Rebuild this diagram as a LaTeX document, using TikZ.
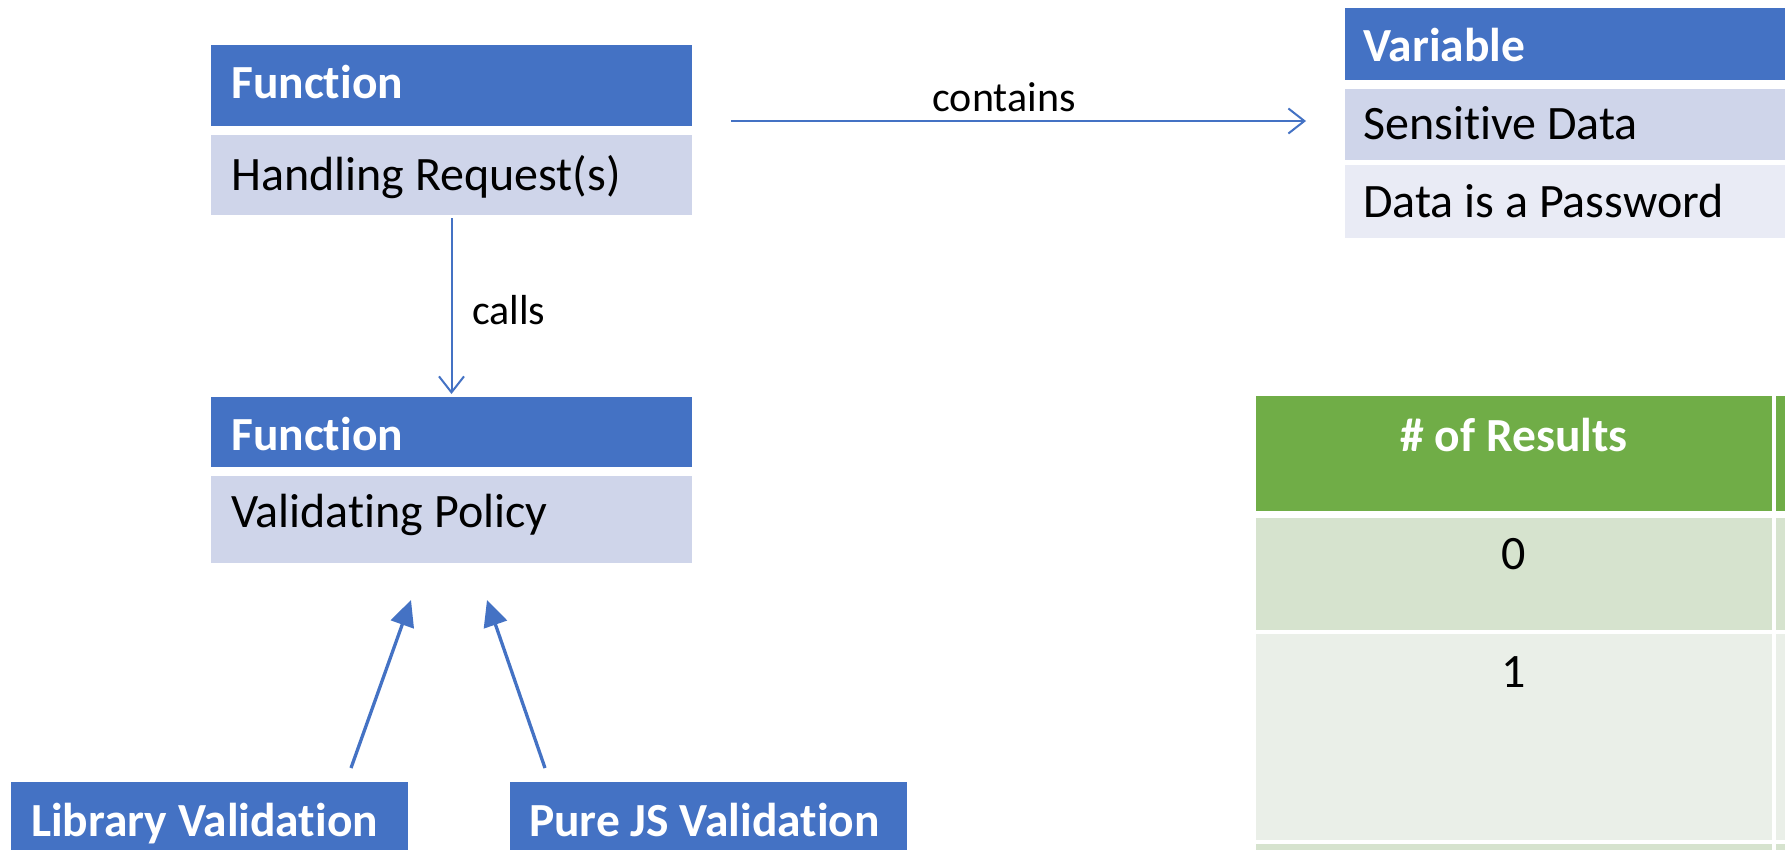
\documentclass[tikz,border=0pt]{standalone}
\usepackage{fontspec}
\setmainfont{Carlito}[Ligatures={NoCommon}]
\usetikzlibrary{arrows.meta}
\definecolor{hdrblue}{HTML}{4472C4}
\definecolor{bodyA}{HTML}{CFD5EA}
\definecolor{bodyB}{HTML}{E9EBF5}
\definecolor{grnhdr}{HTML}{70AD47}
\definecolor{grnA}{HTML}{D6E3CE}
\definecolor{grnB}{HTML}{EAEFE8}
\tikzset{
  box/.style={anchor=north west, inner sep=0pt, outer sep=0pt, draw=none},
  hdrtext/.style={anchor=base west, inner sep=0pt, text=white, font=\fontsize{47.5}{56}\selectfont\bfseries},
  bodytext/.style={anchor=base west, inner sep=0pt, text=black, font=\fontsize{48}{56}\selectfont},
  celltext/.style={anchor=base, inner sep=0pt, text=black, font=\fontsize{48}{56}\selectfont},
  lbltext/.style={anchor=base, inner sep=0pt, text=black, font=\fontsize{42}{50}\selectfont},
  thinarrow/.style={draw=hdrblue, line width=2pt, -{Straight Barb[length=16pt,width=25pt,line width=2pt]}},
  thickarrow/.style={draw=hdrblue, line width=3.3pt, -{Triangle[length=26pt,width=24pt]}},
}
\begin{document}
\begin{tikzpicture}[x=1pt,y=-1pt]
\useasboundingbox (0,0) rectangle (1785,849);
\clip (0,0) rectangle (1785,849);
\fill[white] (0,0) rectangle (1785,849);

% Function 1
\node[box, fill=hdrblue, minimum width=481pt, minimum height=81pt] (f1h) at (211,45) {};
\node[box, fill=bodyA, minimum width=481pt, minimum height=80pt] (f1b) at (211,135) {};
\node[hdrtext] (f1ht) at (231,98) {Function};
\node[bodytext] (f1bt) at (231,190) {Handling Request(s)};

% Function 2
\node[box, fill=hdrblue, minimum width=481pt, minimum height=70pt] (f2h) at (211,397) {};
\node[box, fill=bodyA, minimum width=481pt, minimum height=87pt] (f2b) at (211,476) {};
\node[hdrtext] (f2ht) at (231,450) {Function};
\node[bodytext] (f2bt) at (231,527) {Validating Policy};

% Variable
\node[box, fill=hdrblue, minimum width=460pt, minimum height=72pt] (vh) at (1345,8) {};
\node[box, fill=bodyA, minimum width=460pt, minimum height=71pt] (vb1) at (1345,89) {};
\node[box, fill=bodyB, minimum width=460pt, minimum height=73pt] (vb2) at (1345,165) {};
\node[hdrtext] (vht) at (1363,61) {Variable};
\node[bodytext] (vb1t) at (1363,139) {Sensitive Data};
\node[bodytext] (vb2t) at (1363,217) {Data is a Password};

% Table
\node[box, fill=grnhdr, minimum width=516pt, minimum height=115pt] (th1) at (1256,396) {};
\node[box, fill=grnhdr, minimum width=20pt, minimum height=115pt] (th2) at (1776,396) {};
\node[box, fill=grnA, minimum width=516pt, minimum height=112pt] (tr0) at (1256,518) {};
\node[box, fill=grnA, minimum width=20pt, minimum height=112pt] (tr0b) at (1776,518) {};
\node[box, fill=grnB, minimum width=516pt, minimum height=206pt] (tr1) at (1256,634) {};
\node[box, fill=grnB, minimum width=20pt, minimum height=206pt] (tr1b) at (1776,634) {};
\node[box, fill=grnA, minimum width=516pt, minimum height=20pt] (tr2) at (1256,844) {};
\node[box, fill=grnA, minimum width=20pt, minimum height=20pt] (tr2b) at (1776,844) {};
\node[celltext, text=white, font=\fontsize{47.5}{56}\selectfont\bfseries] (tht) at (1514,451) {\# of Results};
\node[celltext] (tr0t) at (1514,569) {0};
\node[celltext] (tr1t) at (1514,687) {1};

% Bottom boxes
\node[box, fill=hdrblue, minimum width=397pt, minimum height=90pt] (lib) at (11,782) {};
\node[box, fill=hdrblue, minimum width=397pt, minimum height=90pt] (pjs) at (510,782) {};
\node[hdrtext] (libt) at (31,836) {Library Validation};
\node[hdrtext] (pjst) at (529,836) {Pure JS Validation};

% Connectors
\draw[thinarrow, shorten <=3pt, shorten >=3pt] (f1b.south) -- (f2h.north);
\node[lbltext, anchor=base west] (calls) at (472,324) {calls};

\coordinate (cS) at (731,121);
\coordinate (cE) at (1306,121);
\draw[thinarrow] (cS) -- (cE);
\node[lbltext] (contains) at (1004,111) {contains};

\coordinate (a1s) at (351,768);
\coordinate (a1e) at (411,600);
\coordinate (a2s) at (545,768);
\coordinate (a2e) at (487,600);
\draw[thickarrow] (a1s) -- (a1e);
\draw[thickarrow] (a2s) -- (a2e);
\end{tikzpicture}
\end{document}
